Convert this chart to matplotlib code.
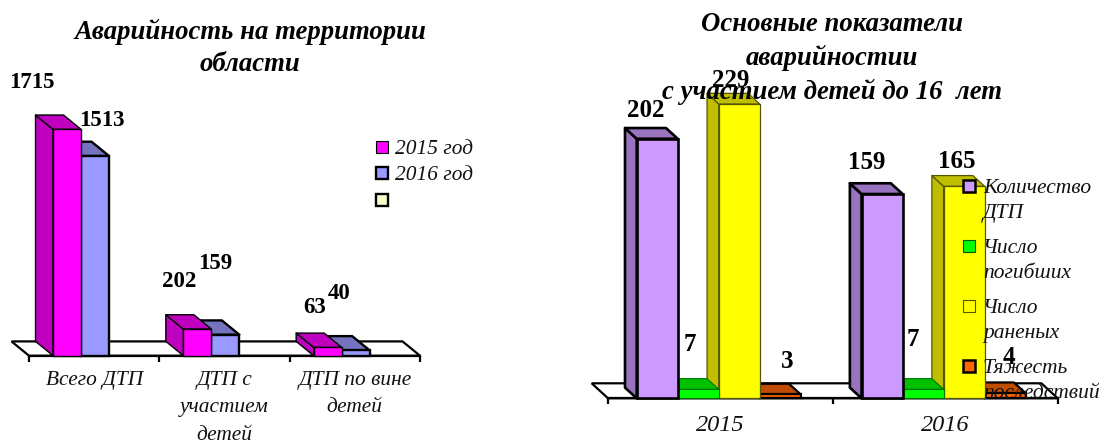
import matplotlib
matplotlib.use('Agg')
import matplotlib.pyplot as plt
from matplotlib.patches import Rectangle

plt.rcParams['font.family'] = ['Liberation Serif', 'DejaVu Serif']

W, H = 1099, 443

# left chart data
left_cats = ['Всего ДТП', 'ДТП с\nучастием\nдетей', 'ДТП по вине\nдетей']
left_2015 = [1715, 202, 63]
left_2016 = [1513, 159, 40]
left_legend = ['2015 год', '2016 год', '']

# right chart data
right_cats = ['2015', '2016']
right_dtp = [202, 159]
right_dead = [7, 7]
right_hurt = [229, 165]
right_grav = [3, 4]
right_legend = ['Количество\nДТП', 'Число\nпогибших', 'Число\nраненых', 'Тяжесть\nпоследствий']


def make_axes(fig, x0, x1, floor_y, scale, ncat):
    ax = fig.add_axes([x0 / W, 1 - floor_y / H, (x1 - x0) / W, floor_y / H])
    ax.set_xlim(0, ncat)
    ax.set_ylim(0, floor_y / scale)
    ax.patch.set_alpha(0)
    for s in ['top', 'left', 'right']:
        ax.spines[s].set_visible(False)
    ax.spines['bottom'].set_linewidth(1.6)
    ax.set_yticks([])
    ax.set_xticks(range(ncat + 1))
    ax.set_xticklabels([])
    ax.tick_params(axis='x', which='major', length=4, width=1.6)
    return ax


def floor(ax, dx, dy):
    x0, x1 = ax.get_xlim()
    ax.fill([x0, x1, x1 - dx, x0 - dx], [0, 0, dy, dy], fc='white', ec='black',
            lw=1.6, clip_on=False, zorder=1)


def bar3d(ax, x, w, h, dx, dy, front, dark, lw, ec, z):
    ax.bar(x, h, w, align='edge', color=front, edgecolor=ec, linewidth=lw, zorder=z + 0.2, clip_on=False)
    ax.fill([x, x, x - dx, x - dx], [0, h, h + dy, dy], fc=dark, ec=ec, lw=lw, zorder=z, clip_on=False,
            joinstyle='round')
    ax.fill([x, x + w, x + w - dx, x - dx], [h, h, h + dy, h + dy], fc=dark, ec=ec, lw=lw, zorder=z + 0.1,
            clip_on=False, joinstyle='round')


def labels(ax, xs, vals, offs, w, size):
    for x, v, o in zip(xs, vals, offs):
        ax.annotate(str(v), (x + w / 2, v), xytext=o, textcoords='offset pixels', ha='center', va='center',
                    fontsize=size, fontweight='bold', zorder=30, annotation_clip=False)


def legend(fig, names, colors, edges, widths, ys, xbox, xtext, size):
    for n, c, e, lw, y in zip(names, colors, edges, widths, ys):
        fig.add_artist(Rectangle((xbox / W, 1 - (y + 6) / H), 12 / W, 12 / H, fc=c, ec=e, lw=lw,
                                 transform=fig.transFigure, zorder=5))
        fig.text(xtext / W, 1 - (y - 7) / H, n, fontsize=size, style='italic', va='top', ha='left',
                 linespacing=1.42, color='#111111', zorder=6)


fig = plt.figure(figsize=(W / 100, H / 100), dpi=100, facecolor='white')

# left chart
ax1 = make_axes(fig, 29, 420, 355.7, 0.132, 3)
px1 = 130.3
dx1, dy1 = 17.5 / px1, 14.3 / 0.132
floor(ax1, dx1, dy1)
start, bw = 24 / px1, 28 / px1
for i in range(3):
    bar3d(ax1, i + start + bw, bw, left_2016[i], dx1, dy1, '#9999FF', '#7373BF', 1.7, 'black', 10)
    bar3d(ax1, i + start, bw, left_2015[i], dx1, dy1, '#FF00FF', '#BF00BF', 1.0, 'black', 11)
labels(ax1, [i + start for i in range(3)], left_2015, [(-35, 47), (-18, 48), (-13, 40)], bw, 16.5)
labels(ax1, [i + start + bw for i in range(3)], left_2016, [(7, 35), (-10, 71), (-17, 57)], bw, 16.5)
ax1.set_xticks([i + 0.5 for i in range(3)], minor=True)
ax1.set_xticklabels(left_cats, minor=True, fontsize=15.4, style='italic', linespacing=1.6, color='#111111')
ax1.tick_params(axis='x', which='minor', length=0, pad=11)
ax1.set_zorder(1)

# right chart
ax2 = make_axes(fig, 608, 1057.7, 398.3, 1.285, 2)
px2 = 224.8
dx2, dy2 = 11.7 / px2, 10.7 / 1.285
floor(ax2, 16.3 / px2, 15 / 1.285)
start2, bw2 = 28.7 / px2, 41 / px2
series = [
    (right_grav, '#FF6600', '#BF4C00', 1.6, 'black', 3),
    (right_hurt, '#FFFF00', '#BFBF00', 0.9, '#555500', 2),
    (right_dead, '#00FF00', '#00BF00', 0.8, '#007700', 1),
    (right_dtp, '#CC99FF', '#9973BF', 1.9, 'black', 0),
]
for vals, c, d, lw, ec, k in series:
    for i in range(2):
        bar3d(ax2, i + start2 + k * bw2, bw2, vals[i], dx2, dy2, c, d, lw, ec, 10 + (3 - k))
labels(ax2, [i + start2 for i in range(2)], right_dtp, [(-11, 28), (-15, 31)], bw2, 18)
labels(ax2, [i + start2 + bw2 for i in range(2)], right_dead, [(-8, 45), (-10, 50)], bw2, 18)
labels(ax2, [i + start2 + 2 * bw2 for i in range(2)], right_hurt, [(-9, 24), (-7, 25)], bw2, 18)
labels(ax2, [i + start2 + 3 * bw2 for i in range(2)], right_grav, [(7, 33), (4, 36)], bw2, 18)
ax2.set_xticks([i + 0.5 for i in range(2)], minor=True)
ax2.set_xticklabels(right_cats, minor=True, fontsize=17.5, style='italic', color='#111111')
ax2.tick_params(axis='x', which='minor', length=0, pad=12)
ax2.set_zorder(2)

legend(fig, left_legend, ['#FF00FF', '#9999FF', '#FFFFCC'], ['black'] * 3, [0.8, 1.7, 1.7],
       [147, 173, 200], 376, 395, 15.4)
legend(fig, right_legend, ['#CC99FF', '#00FF00', '#FFFF00', '#FF6600'], ['black', '#005500', '#555500', 'black'],
       [1.8, 0.8, 0.8, 1.8], [186, 246, 306, 366], 963, 983, 15.5)

fig.text(250 / W, 1 - 19 / H, 'Аварийность на территории\nобласти', fontsize=19.3, fontweight='bold',
         style='italic', ha='center', va='top', linespacing=1.38, zorder=7)
fig.text(832 / W, 1 - 12 / H, 'Основные показатели\nаварийностии\nс участием детей до 16  лет', fontsize=19.3,
         fontweight='bold', style='italic', ha='center', va='top', linespacing=1.38, zorder=7)

fig.savefig('out.png', dpi=100)
